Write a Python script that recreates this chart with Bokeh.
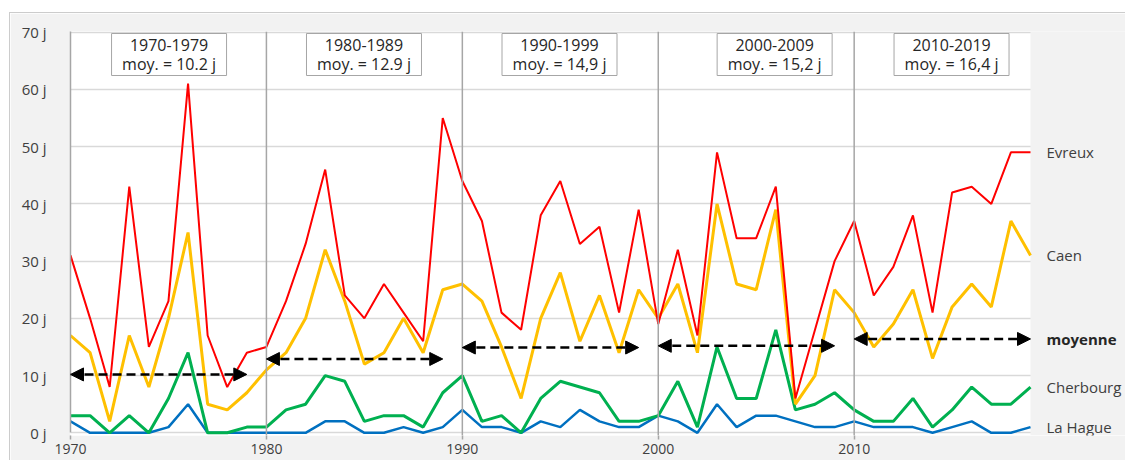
from bokeh.plotting import figure
from bokeh.models import (Range1d, FixedTicker, Span, Label, Arrow, NormalHead,
                          ColumnDataSource, BoxAnnotation)
from bokeh.embed import file_html
from bokeh.resources import INLINE

# ---------------- data ----------------
years = list(range(1970, 2020))
evreux = [31, 20, 8, 43, 15, 23, 61, 17, 8, 14,
          15, 23, 33, 46, 24, 20, 26, 21, 16, 55,
          44, 37, 21, 18, 38, 44, 33, 36, 21, 39,
          19, 32, 17, 49, 34, 34, 43, 6, 18, 30,
          37, 24, 29, 38, 21, 42, 43, 40, 49, 49]
caen = [17, 14, 2, 17, 8, 20, 35, 5, 4, 7,
        11, 14, 20, 32, 23, 12, 14, 20, 14, 25,
        26, 23, 15, 6, 20, 28, 16, 24, 14, 25,
        20, 26, 14, 40, 26, 25, 39, 5, 10, 25,
        21, 15, 19, 25, 13, 22, 26, 22, 37, 31]
cherbourg = [3, 3, 0, 3, 0, 6, 14, 0, 0, 1,
             1, 4, 5, 10, 9, 2, 3, 3, 1, 7,
             10, 2, 3, 0, 6, 9, 8, 7, 2, 2,
             3, 9, 1, 15, 6, 6, 18, 4, 5, 7,
             4, 2, 2, 6, 1, 4, 8, 5, 5, 8]
la_hague = [2, 0, 0, 0, 0, 1, 5, 0, 0, 0,
            0, 0, 0, 2, 2, 0, 0, 1, 0, 1,
            4, 1, 1, 0, 2, 1, 4, 2, 1, 1,
            3, 2, 0, 5, 1, 3, 3, 2, 1, 1,
            2, 1, 1, 1, 0, 1, 2, 0, 0, 1]

decade_start = [1970, 1980, 1990, 2000, 2010]
decade_end = [1979, 1989, 1999, 2009, 2019]
decade_mean = [10.2, 12.9, 14.9, 15.2, 16.4]
decade_title = ["1970-1979", "1980-1989", "1990-1999", "2000-2009", "2010-2019"]
decade_moy = ["moy. = 10.2 j", "moy. = 12.9 j", "moy. = 14,9 j", "moy. = 15,2 j", "moy. = 16,4 j"]

x_ticks = [1970, 1980, 1990, 2000, 2010]
y_ticks = [0, 10, 20, 30, 40, 50, 60, 70]
y_tick_labels = ["0 j", "10 j", "20 j", "30 j", "40 j", "50 j", "60 j", "70 j"]

station_names = ["Evreux", "Caen", "Cherbourg", "La Hague"]
mean_name = "moyenne"

# ---------------- layout / style ----------------
FONT = "Open Sans"
TXT = "#404040"
GREY_BG = "#f2f2f2"
FIRST, LAST = years[0], years[-1]

p = figure(width=1116, height=448, output_backend="svg", toolbar_location=None,
           x_range=Range1d(FIRST, 2023.9), y_range=Range1d(-0.47, 70.12),
           min_border_left=60, min_border_right=0, min_border_top=18, min_border_bottom=26)
p.margin = (12, 0, 0, 9)
p.styles = {"border-top": "1px solid #cccccc", "border-left": "1px solid #cccccc"}
p.border_fill_color = GREY_BG
p.background_fill_color = "white"
p.outline_line_color = None

# grey area right of the plotting region (label column)
p.add_layout(BoxAnnotation(left=LAST, fill_color=GREY_BG, fill_alpha=1.0,
                           line_color=None, level="underlay"))

p.xgrid.visible = False
p.ygrid.ticker = FixedTicker(ticks=y_ticks)
p.ygrid.grid_line_color = "#d9d9d9"
p.ygrid.grid_line_width = 1.5

# y axis
p.yaxis.ticker = FixedTicker(ticks=y_ticks)
p.yaxis.major_label_overrides = {t: l for t, l in zip(y_ticks, y_tick_labels)}
p.yaxis.bounds = (0, 70.12)
p.yaxis.axis_line_color = "#a6a6a6"
p.yaxis.axis_line_width = 1.5
p.yaxis.major_tick_line_color = None
p.yaxis.minor_tick_line_color = None
p.yaxis.major_label_standoff = 18
p.yaxis.major_label_text_font = FONT
p.yaxis.major_label_text_font_size = "15px"
p.yaxis.major_label_text_color = TXT

# x axis
p.xaxis.bounds = (FIRST, LAST)
p.xaxis.ticker = FixedTicker(ticks=x_ticks)
p.xaxis.axis_line_color = None
p.xaxis.major_tick_line_color = "#a6a6a6"
p.xaxis.major_tick_line_width = 1.5
p.xaxis.major_tick_in = 0
p.xaxis.major_tick_out = 4
p.xaxis.minor_tick_line_color = None
p.xaxis.major_label_standoff = 4
p.xaxis.major_label_text_font = FONT
p.xaxis.major_label_text_font_size = "14px"
p.xaxis.major_label_text_color = TXT

# decade separators
for xs in decade_start[1:]:
    p.add_layout(Span(location=xs, dimension="height", line_color="#a6a6a6", line_width=1.5))

# series
p.line(years, la_hague, line_color="#0070c0", line_width=2.5)
p.line(years, cherbourg, line_color="#00b050", line_width=3)
p.line(years, caen, line_color="#ffc000", line_width=3)
p.line(years, evreux, line_color="#ff0000", line_width=2)

# decade mean arrows
arr_src = ColumnDataSource(dict(x0=decade_start, x1=decade_end, y=decade_mean))
p.add_layout(Arrow(source=arr_src, x_start="x0", y_start="y", x_end="x1", y_end="y",
                   line_color="black", line_width=2.5, line_dash="9 5",
                   start=NormalHead(size=13, fill_color="black", line_color="black"),
                   end=NormalHead(size=13, fill_color="black", line_color="black")))

# decade boxes
box_center = [1975.03, 1984.98, 1994.96, 2005.94, 2014.97]
p.rect(x=box_center, y=[66.1] * 5, width=115, height=42, width_units="screen", height_units="screen",
       fill_color="white", line_color="#a6a6a6", line_width=1)
for bx, t1, t2 in zip(box_center, decade_title, decade_moy):
    p.add_layout(Label(x=bx, y=67.8, text=t1, text_align="center", text_baseline="middle",
                       text_font=FONT, text_font_size="16px", text_color="#262626"))
    p.add_layout(Label(x=bx, y=64.5, text=t2, text_align="center", text_baseline="middle",
                       text_font=FONT, text_font_size="16px", text_color="#262626"))

# right-hand series labels
station_last = [evreux[-1], caen[-1], cherbourg[-1], la_hague[-1]]
for name, ly in zip(station_names, station_last):
    p.add_layout(Label(x=LAST, x_offset=16, y=ly, text=name, text_align="left",
                       text_baseline="middle", text_font=FONT, text_font_size="15px",
                       text_color=TXT))
p.add_layout(Label(x=LAST, x_offset=16, y=decade_mean[-1], text=mean_name, text_align="left",
                   text_baseline="middle", text_font=FONT, text_font_size="15px",
                   text_font_style="bold", text_color="#262626"))

open("out.html", "w").write(file_html(p, INLINE))
